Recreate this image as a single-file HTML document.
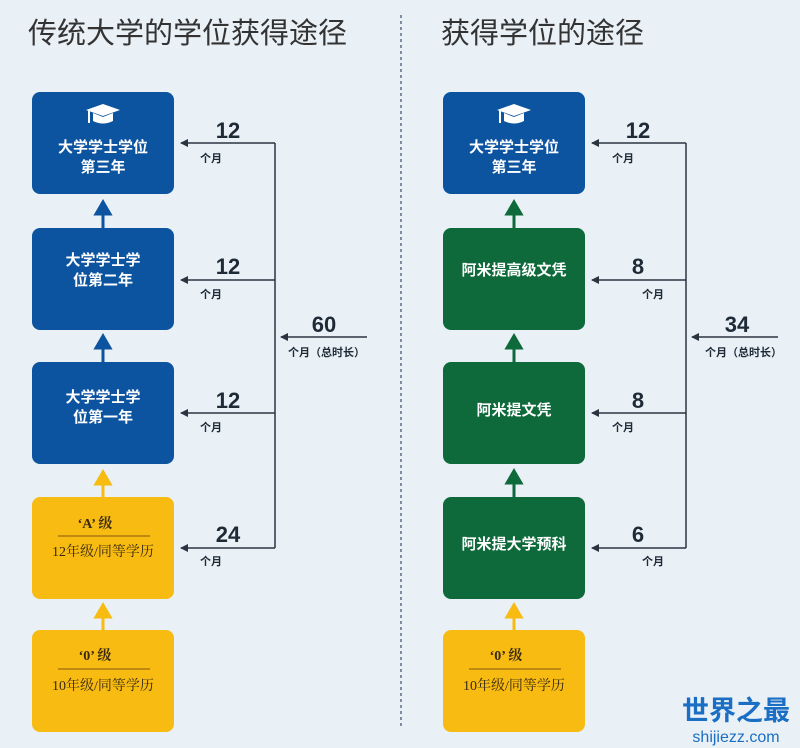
<!DOCTYPE html>
<html><head><meta charset="utf-8"><style>
body{margin:0;background:#e9f0f6;}
svg{display:block;font-family:"Liberation Sans","Noto Sans CJK SC",sans-serif;}
.bt{fill:#fff;font-weight:bold;font-size:15px;text-anchor:middle}
.n{fill:#1e2a36;font-weight:bold;font-size:22px;text-anchor:middle}
.u{fill:#1e2a36;font-weight:bold;font-size:11px}
.y1{fill:#3a2a10;font-family:"Liberation Serif","Noto Serif CJK SC",serif;font-weight:bold;font-size:14px;text-anchor:middle}
.y2{fill:#3a2a10;font-family:"Liberation Serif","Noto Serif CJK SC",serif;font-size:14px;text-anchor:middle}
</style></head><body>
<svg width="800" height="748" viewBox="0 0 800 748">
<defs>
<marker id="ah" markerWidth="8" markerHeight="8" refX="7" refY="4" orient="auto" markerUnits="userSpaceOnUse"><path d="M0,0 L8,4 L0,8 Z" fill="#2a3440"/></marker>
</defs>
<rect width="800" height="748" fill="#e9f0f6"/>
<text x="28" y="43" font-size="29" fill="#333">传统大学的学位获得途径</text>
<text x="441" y="43" font-size="29" fill="#333">获得学位的途径</text>
<line x1="401" y1="15" x2="401" y2="728" stroke="#5a6f8a" stroke-width="1.5" stroke-dasharray="3,3"/>

<g>
<rect x="32" y="92" width="142" height="102" rx="8" fill="#0d54a0"/>
<rect x="32" y="228" width="142" height="102" rx="8" fill="#0d54a0"/>
<rect x="32" y="362" width="142" height="102" rx="8" fill="#0d54a0"/>
<rect x="32" y="497" width="142" height="102" rx="8" fill="#f7bb12"/>
<rect x="32" y="630" width="142" height="102" rx="8" fill="#f7bb12"/>
<rect x="443" y="92" width="142" height="102" rx="8" fill="#0d54a0"/>
<rect x="443" y="228" width="142" height="102" rx="8" fill="#0e6a3a"/>
<rect x="443" y="362" width="142" height="102" rx="8" fill="#0e6a3a"/>
<rect x="443" y="497" width="142" height="102" rx="8" fill="#0e6a3a"/>
<rect x="443" y="630" width="142" height="102" rx="8" fill="#f7bb12"/>
</g>
<g fill="#fff">
<path d="M86,110 L103,104 L120,110 L103,116 Z"/><path d="M93,113 L93,121 Q103,126 113,121 L113,113 L103,117 Z"/><rect x="88" y="110" width="2" height="13"/>
<path d="M497,110 L514,104 L531,110 L514,116 Z"/><path d="M504,113 L504,121 Q514,126 524,121 L524,113 L514,117 Z"/><rect x="499" y="110" width="2" height="13"/>
</g>
<text class="bt" x="103" y="152">大学学士学位</text><text class="bt" x="103" y="172">第三年</text>
<text class="bt" x="103" y="265">大学学士学</text><text class="bt" x="103" y="285">位第二年</text>
<text class="bt" x="103" y="402">大学学士学</text><text class="bt" x="103" y="422">位第一年</text>
<text class="y1" x="95" y="528">‘A’ 级</text><line x1="58" y1="536" x2="150" y2="536" stroke="#8a5a10" stroke-width="1"/>
<text class="y2" x="103" y="556">12年级/同等学历</text>
<text class="y1" x="95" y="660">‘0’ 级</text><line x1="58" y1="669" x2="150" y2="669" stroke="#8a5a10" stroke-width="1"/>
<text class="y2" x="103" y="690">10年级/同等学历</text>

<text class="bt" x="514" y="152">大学学士学位</text><text class="bt" x="514" y="172">第三年</text>
<text class="bt" x="514" y="275">阿米提高级文凭</text>
<text class="bt" x="514" y="415">阿米提文凭</text>
<text class="bt" x="514" y="549">阿米提大学预科</text>
<text class="y1" x="506" y="660">‘0’ 级</text><line x1="469" y1="669" x2="561" y2="669" stroke="#8a5a10" stroke-width="1"/>
<text class="y2" x="514" y="690">10年级/同等学历</text>

<g stroke-width="3">
<g stroke="#0d54a0" fill="#0d54a0">
<line x1="103" y1="228" x2="103" y2="212"/><path d="M96,214 L103,202 L110,214 Z"/>
<line x1="103" y1="362" x2="103" y2="346"/><path d="M96,348 L103,336 L110,348 Z"/>
</g>
<g stroke="#f7bb12" fill="#f7bb12">
<line x1="103" y1="497" x2="103" y2="482"/><path d="M96,484 L103,472 L110,484 Z"/>
<line x1="103" y1="630" x2="103" y2="615"/><path d="M96,617 L103,605 L110,617 Z"/>
<line x1="514" y1="630" x2="514" y2="615"/><path d="M507,617 L514,605 L521,617 Z"/>
</g>
<g stroke="#0e6a3a" fill="#0e6a3a">
<line x1="514" y1="228" x2="514" y2="212"/><path d="M507,214 L514,202 L521,214 Z"/>
<line x1="514" y1="362" x2="514" y2="346"/><path d="M507,348 L514,336 L521,348 Z"/>
<line x1="514" y1="497" x2="514" y2="481"/><path d="M507,483 L514,471 L521,483 Z"/>
</g>
</g>

<g stroke="#2a3440" stroke-width="1.5" fill="none">
<line x1="275" y1="143" x2="275" y2="548"/>
<line x1="275" y1="143" x2="181" y2="143" marker-end="url(#ah)"/>
<line x1="275" y1="280" x2="181" y2="280" marker-end="url(#ah)"/>
<line x1="275" y1="413" x2="181" y2="413" marker-end="url(#ah)"/>
<line x1="275" y1="548" x2="181" y2="548" marker-end="url(#ah)"/>
<line x1="367" y1="337" x2="281" y2="337" marker-end="url(#ah)"/>
<line x1="686" y1="143" x2="686" y2="548"/>
<line x1="686" y1="143" x2="592" y2="143" marker-end="url(#ah)"/>
<line x1="686" y1="280" x2="592" y2="280" marker-end="url(#ah)"/>
<line x1="686" y1="413" x2="592" y2="413" marker-end="url(#ah)"/>
<line x1="686" y1="548" x2="592" y2="548" marker-end="url(#ah)"/>
<line x1="778" y1="337" x2="692" y2="337" marker-end="url(#ah)"/>
</g>
<text class="n" x="228" y="138">12</text><text class="u" x="200" y="162">个月</text>
<text class="n" x="228" y="274">12</text><text class="u" x="200" y="298">个月</text>
<text class="n" x="228" y="408">12</text><text class="u" x="200" y="431">个月</text>
<text class="n" x="228" y="542">24</text><text class="u" x="200" y="565">个月</text>
<text class="n" x="324" y="332">60</text><text class="u" x="288" y="356">个月（总时长）</text>

<text class="n" x="638" y="138">12</text><text class="u" x="612" y="162">个月</text>
<text class="n" x="638" y="274">8</text><text class="u" x="642" y="298">个月</text>
<text class="n" x="638" y="408">8</text><text class="u" x="612" y="431">个月</text>
<text class="n" x="638" y="542">6</text><text class="u" x="642" y="565">个月</text>
<text class="n" x="737" y="332">34</text><text class="u" x="705" y="356">个月（总时长）</text>

<text x="736" y="720" font-size="27" font-weight="bold" fill="#1a6fc4" text-anchor="middle">世界之最</text>
<text x="736" y="742" font-size="16" fill="#1a6fc4" text-anchor="middle">shijiezz.com</text>
</svg>
</body></html>
